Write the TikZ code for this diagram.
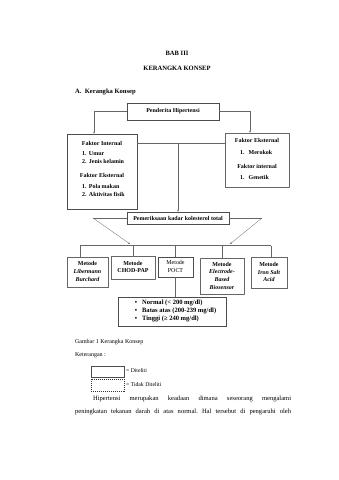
\documentclass[tikz,border=0pt]{standalone}
\usepackage{fontspec}
\setmainfont{Liberation Serif}
\usetikzlibrary{arrows.meta}
\frenchspacing
\begin{document}
\begin{tikzpicture}[x=1.755pt,y=-1.755pt,
  ln/.style={draw=black!60,line width=0.5pt},
  arr/.style={ln,-{Latex[length=3.2pt,width=2.8pt]}},
  sbox/.style={draw=black!70,line width=0.7pt,inner sep=0pt},
  dbox/.style={draw=black!60,line width=0.6pt,densely dotted,inner sep=0pt},
  tx/.style={inner sep=0pt,font=\fontsize{10.5}{13}\selectfont\bfseries},
  rx/.style={inner sep=0pt,font=\fontsize{11.5}{13}\selectfont\bfseries},
  mt/.style={inner sep=0pt,align=center,font=\fontsize{10.5}{13.5}\selectfont\bfseries},
  body/.style={inner sep=0pt,font=\fontsize{11.5}{14}\selectfont}]
\useasboundingbox[fill=white] (0,0) rectangle (339,480);
% headings
\node[body,font=\fontsize{11.5}{14}\selectfont\bfseries] (bab) at (177,53) {BAB III};
\node[body,font=\fontsize{11.5}{14}\selectfont\bfseries] (ker) at (177,68) {KERANGKA KONSEP};
\node[body,font=\fontsize{11.5}{14}\selectfont\bfseries,anchor=mid west] (sub) at (75,92) {A.\hspace{6pt}Kerangka Konsep};
% boxes
\node[sbox,minimum width=92*1.755pt,minimum height=17*1.755pt] (pend) at (173,111.5) {};
\node[tx] (pendt) at (173,111) {Penderita Hipertensi};
\node[sbox,minimum width=70*1.755pt,minimum height=75*1.755pt] (fi) at (102,171.5) {};
\node[dbox,minimum width=64*1.755pt,minimum height=54*1.755pt] (fe) at (257,160) {};
\node[sbox,minimum width=102*1.755pt,minimum height=12*1.755pt] (pem) at (178,218) {};
\node[tx] (pemt) at (178,218) {Pemeriksaan kadar kolesterol total};
% FI text
\node[tx] (fi1) at (102,143) {Faktor Internal};
\node[tx,anchor=mid west] (fi2) at (82,154) {\makebox[12pt][l]{1.}Umur};
\node[tx,anchor=mid west] (fi3) at (82,162) {\makebox[12pt][l]{2.}Jenis kelamin};
\node[tx] (fi4) at (102,175) {Faktor Eksternal};
\node[tx,anchor=mid west] (fi5) at (82,187) {\makebox[12pt][l]{1.}Pola makan};
\node[tx,anchor=mid west] (fi6) at (82,195) {\makebox[12pt][l]{2.}Aktivitas fisik};
% FE text
\node[tx] (fe1) at (257,140) {Faktor Eksternal};
\node[tx,anchor=mid west] (fe2) at (240,153) {\makebox[15pt][l]{1.}Merokok};
\node[tx] (fe3) at (257,166) {Faktor internal};
\node[tx,anchor=mid west] (fe4) at (240,178) {\makebox[15pt][l]{1.}Genetik};
% metode boxes
\node[dbox,minimum width=41*1.755pt,minimum height=30*1.755pt] (m1) at (87.5,272) {};
\node[mt] (m1t) at (87.5,271.5) {Metode\\\itshape Libermann\\\itshape Burchard};
\node[dbox,minimum width=44*1.755pt,minimum height=23*1.755pt] (m2) at (133,267.5) {};
\node[mt] (m2t) at (133,267) {Metode\\CHOD-PAP};
\node[sbox,minimum width=35*1.755pt,minimum height=20*1.755pt] (m3) at (175.5,267) {};
\node[mt,font=\fontsize{10.5}{13.5}\selectfont] (m3t) at (175.5,266.5) {Metode\\POCT};
\node[dbox,minimum width=44*1.755pt,minimum height=36*1.755pt] (m4) at (222,276) {};
\node[mt] (m4t) at (222,275.5) {Metode\\\itshape Electrode-\\\itshape Based\\\itshape Biosensor};
\node[dbox,minimum width=36*1.755pt,minimum height=31*1.755pt] (m5) at (269,272.5) {};
\node[mt] (m5t) at (269,272) {Metode\\\itshape Iron Salt\\\itshape Acid};
% result box
\node[sbox,minimum width=108*1.755pt,minimum height=29*1.755pt] (res) at (172,311.5) {};
\node[rx] (b1) at (136,303) {•};
\node[rx,anchor=mid west] (r1) at (142,303) {Normal (< 200 mg/dl)};
\node[rx] (b2) at (136,311) {•};
\node[rx,anchor=mid west] (r2) at (142,311) {Batas atas (200-239 mg/dl)};
\node[rx] (b3) at (136,319) {•};
\node[rx,anchor=mid west] (r3) at (142,319) {Tinggi (≥ 240 mg/dl)};
% connectors
\draw[arr] (pend.west) -| ([xshift=-8*1.755pt]fi.north);
\draw[arr] (pend.east) -| ([xshift=-7*1.755pt]fe.north);
\coordinate (mid) at (178,143);
\draw[ln] (fi.east |- mid) -- (fe.west |- mid);
\draw[arr] (mid) -- (pem.north);
\coordinate (tl) at (93,218);
\coordinate (tr) at (262,218);
\coordinate (al) at (130,244);
\coordinate (ar) at (230,244);
\draw[ln] (pem.west) -- (tl);
\draw[arr] (tl) -- (al);
\draw[ln] (pem.east) -- (tr);
\draw[arr] (tr) -- (ar);
\coordinate (bl) at (80,245.5);
\coordinate (br) at (271,245.5);
\draw[ln] (bl) -- (br);
\draw[ln] (bl) -- (bl |- m1.north);
\draw[ln] (m2.north |- bl) -- (m2.north);
\draw[ln] (m3.north |- bl) -- (m3.north);
\draw[ln] (m4.north |- bl) -- (m4.north);
\draw[ln] (br) -- (br |- m5.north);
\draw[ln] (m3.south) -- (m3.south |- res.north);
% caption and legend
\node[body,anchor=mid west,font=\fontsize{10.5}{13}\selectfont] (cap) at (75,342) {Gambar 1 Kerangka Konsep};
\node[body,anchor=mid west,font=\fontsize{10.5}{13}\selectfont] (ket) at (75,355) {Keterangan :};
\node[sbox,line width=0.9pt,minimum width=33*1.755pt,minimum height=11*1.755pt] (ls) at (107.5,371.5) {};
\node[draw=black!80,line width=0.9pt,dashed,dash pattern=on 2pt off 1.5pt,inner sep=0pt,minimum width=33*1.755pt,minimum height=12*1.755pt] (ld) at (107.5,385) {};
\node[body,anchor=mid west,font=\fontsize{10}{12}\selectfont] (lst) at (126,371.5) {= Diteliti};
\node[body,anchor=mid west,font=\fontsize{10}{12}\selectfont] (ldt) at (126,385.5) {= Tidak Diteliti};
% paragraph
\node[body,anchor=mid west] (p1) at (93,399) {\makebox[347.5pt][s]{Hipertensi merupakan keadaan dimana seseorang mengalami}};
\node[body,anchor=mid west] (p2) at (75,412) {\makebox[379pt][s]{peningkatan tekanan darah di atas normal. Hal tersebut di pengaruhi oleh}};
\end{tikzpicture}
\end{document}
